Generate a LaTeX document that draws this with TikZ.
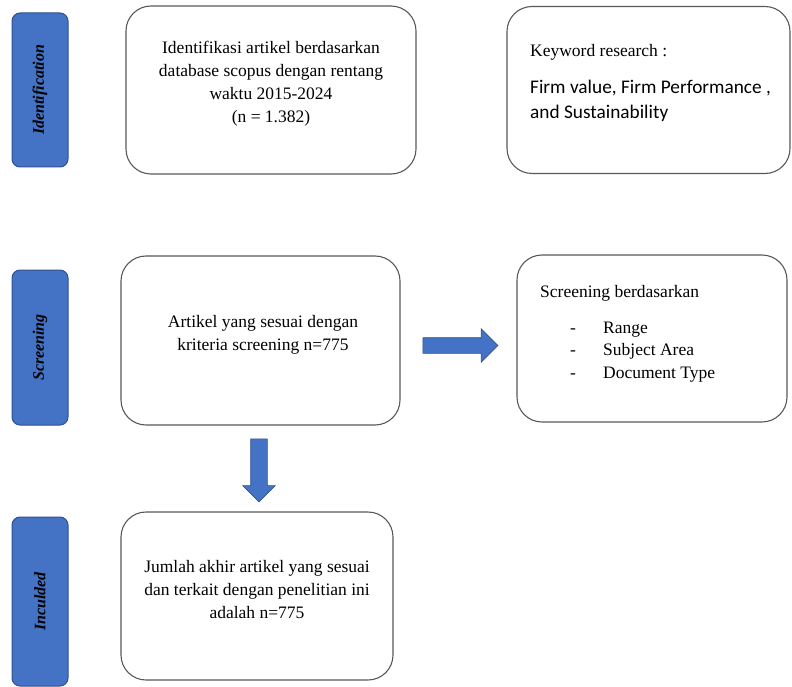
\documentclass[tikz,border=0pt]{standalone}
\usepackage{fontspec}
\setmainfont{Liberation Serif}
\newfontfamily\calibri{Carlito}
\usetikzlibrary{positioning,shapes.arrows}
\definecolor{stageblue}{HTML}{4472C4}
\definecolor{stageline}{HTML}{2F528F}
\tikzset{
  stage/.style ={draw=stageline, fill=stageblue, rounded corners=8pt, line width=1pt, rotate=90,
                 minimum height=56pt, inner sep=0pt, font=\fontsize{16}{19}\selectfont\bfseries\itshape},
  box/.style   ={draw=black!65, rounded corners=25pt, line width=1.1pt, fill=white},
  txt/.style   ={align=center, inner sep=0pt, font=\fontsize{17.5}{23}\selectfont},
  kw/.style    ={align=left, inner sep=0pt, font=\calibri\fontsize{19.3}{25}\selectfont},
  blockarrow/.style={single arrow, draw=stageline, fill=stageblue, line width=0.6pt,
                 inner xsep=0pt, single arrow head indent=0pt}
}

\begin{document}
\begin{tikzpicture}[x=1pt, y=-1pt]
\useasboundingbox (0,0) rectangle (792,687);
\node[stage, minimum width=154pt] (ident)  at (40,90)    {Identification};
\node[stage, minimum width=155pt] (screen) at (40,347.5) {Screening};
\node[stage, minimum width=169pt] (incl)   at (40,601.5) {Inculded};

\node[box, minimum width=290pt, minimum height=168pt] (idbox)   at (271,90)      {};
\node[box, minimum width=283pt, minimum height=167pt] (kwbox)   at (648.5,90)    {};
\node[box, minimum width=279pt, minimum height=169pt] (scrbox)  at (260.5,340.5) {};
\node[box, minimum width=270pt, minimum height=167pt] (critbox) at (652,338.5)   {};
\node[box, minimum width=272pt, minimum height=168pt] (inclbox) at (257,596)     {};

\node[txt] (idtxt) at ([yshift=6.5pt]idbox.center)
  {Identifikasi artikel berdasarkan\\database scopus dengan rentang\\waktu 2015-2024\\(n = 1.382)};
\node[txt, anchor=base west] (kwhead) at (530,57) {Keyword research :};
\node[kw, anchor=north west] (kwlist) at (530,79.5) {Firm value, Firm Performance ,\\and Sustainability};
\node[txt] (scrtxt) at ([xshift=2.5pt,yshift=6pt]scrbox.center)
  {Artikel yang sesuai dengan\\kriteria screening n=775};
\node[txt, anchor=base west] (crithead) at (540,297) {Screening berdasarkan};
\node[txt, align=left, anchor=north west, font=\fontsize{17.5}{22.5}\selectfont] (critlist) at (570,321.5)
  {\makebox[33pt][l]{-}Range\\\makebox[33pt][l]{-}Subject Area\\\makebox[33pt][l]{-}Document Type};
\node[txt] (incltxt) at ([yshift=6pt]inclbox.center)
  {Jumlah akhir artikel yang sesuai\\dan terkait dengan penelitian ini\\adalah n=775};

\node[blockarrow, minimum height=75pt, inner ysep=7.5pt, single arrow head extend=9pt,
      anchor=west] (toright) at ([xshift=22pt,yshift=-5pt]scrbox.east) {};
\node[blockarrow, minimum height=63pt, inner ysep=8pt, single arrow head extend=8pt,
      rotate=-90, anchor=west] (todown) at ([xshift=-1.5pt,yshift=-13pt]scrbox.south) {};
\end{tikzpicture}
\end{document}
